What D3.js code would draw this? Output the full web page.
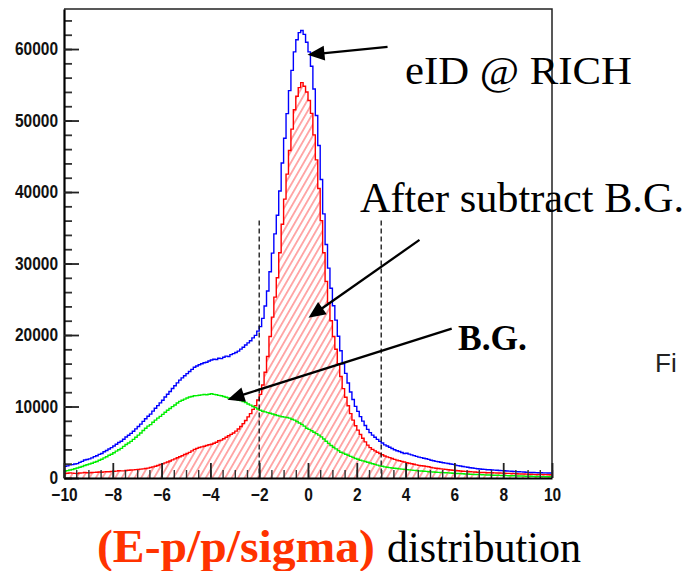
<!DOCTYPE html>
<html>
<head>
<meta charset="utf-8">
<script src="https://cdn.jsdelivr.net/npm/d3@7"></script>
<style>
  html, body { margin: 0; padding: 0; background: #fff; }
  svg { display: block; }
</style>
</head>
<body>
<svg id="chart" width="688" height="571"></svg>
<script>
// Histogram binning: 200 bins of width 0.1 over [-10, 10]
const binLow = -10;
const binWidth = 0.1;

// All electron candidates identified by the RICH (blue)
const totalCounts = [
  1620, 1700, 1830, 1870, 1950, 2010, 2190, 2320, 2510, 2590, 2670, 2820, 2990, 3110, 3310, 3420, 3670, 3850, 4060, 4250,
  4480, 4720, 4960, 5140, 5420, 5730, 5980, 6240, 6530, 6870, 7200, 7540, 7920, 8280, 8630, 8930, 9350, 9750, 10130, 10510,
  10880, 11320, 11710, 12100, 12510, 12900, 13310, 13690, 14000, 14310, 14600, 14900, 15200, 15500, 15660, 15840, 15970, 16130, 16200, 16370,
  16510, 16620, 16580, 16760, 16700, 16900, 17050, 17000, 17250, 17400, 17550, 17750, 18020, 18280, 18600, 18900, 19200, 19600, 19950, 20550,
  21180, 22330, 24050, 26150, 28850, 31450, 34150, 36750, 40150, 44060, 47520, 50970, 54180, 57020, 59600, 61300, 62300, 62600, 62050, 60950,
  59600, 57600, 54400, 50700, 46500, 41750, 36950, 32650, 29350, 26550, 24100, 22080, 19830, 17800, 15980, 14630, 13280, 12020, 10980, 10020,
  9320, 8580, 7950, 7350, 6800, 6350, 6000, 5700, 5400, 5120, 4890, 4640, 4470, 4300, 4120, 3960, 3820, 3700, 3560, 3430,
  3470, 3340, 3240, 3130, 3030, 2920, 2850, 2760, 2690, 2600, 2490, 2410, 2330, 2270, 2200, 2140, 2080, 2020, 1960, 1900,
  1800, 1730, 1670, 1610, 1550, 1500, 1440, 1390, 1350, 1300, 1260, 1220, 1200, 1160, 1145, 1115, 1095, 1075, 1055, 1030,
  1015, 985, 965, 935, 915, 890, 870, 850, 830, 810, 790, 775, 760, 745, 735, 725, 715, 710, 705, 700
];

// Background-subtracted electron signal (red, hatched)
const signalCounts = [
  640, 670, 720, 680, 650, 620, 690, 720, 770, 740, 720, 760, 790, 810, 830, 800, 850, 870, 880, 920,
  940, 960, 1010, 990, 1000, 1050, 1080, 1120, 1130, 1170, 1200, 1240, 1270, 1330, 1380, 1460, 1550, 1650, 1750, 1890,
  1980, 2120, 2230, 2370, 2530, 2680, 2830, 2970, 3120, 3280, 3420, 3580, 3800, 4000, 4140, 4260, 4350, 4450, 4550, 4650,
  4730, 4870, 5000, 5200, 5300, 5500, 5700, 5900, 6100, 6300, 6550, 6850, 7200, 7600, 8050, 8550, 9000, 9600, 10100, 10900,
  11700, 13000, 14800, 17000, 19800, 22500, 25300, 28000, 31500, 35500, 39000, 42500, 45800, 48800, 51500, 53400, 54600, 55300, 54800, 54000,
  52800, 51000, 48000, 44500, 40500, 36000, 31500, 27500, 24500, 22000, 19800, 18000, 16000, 14200, 12500, 11300, 10100, 9000, 8100, 7300,
  6700, 6100, 5550, 5050, 4600, 4250, 4000, 3800, 3600, 3420, 3250, 3080, 2960, 2850, 2720, 2600, 2500, 2420, 2320, 2230,
  2150, 2060, 1990, 1920, 1840, 1770, 1720, 1670, 1620, 1570, 1480, 1420, 1370, 1330, 1280, 1240, 1200, 1160, 1120, 1080,
  1050, 1010, 980, 950, 920, 900, 870, 850, 830, 810, 790, 770, 760, 740, 735, 725, 710, 700, 690, 675,
  670, 650, 640, 620, 610, 590, 580, 560, 550, 540, 530, 520, 510, 500, 495, 485, 480, 475, 465, 460
];

// Estimated background (green)
const backgroundCounts = [
  980, 1030, 1110, 1190, 1300, 1390, 1500, 1600, 1740, 1850, 1950, 2060, 2200, 2300, 2480, 2620, 2820, 2980, 3180, 3330,
  3540, 3760, 3950, 4150, 4420, 4680, 4900, 5120, 5400, 5700, 6000, 6300, 6650, 6950, 7250, 7470, 7800, 8100, 8380, 8620,
  8900, 9200, 9480, 9730, 9980, 10220, 10480, 10720, 10880, 11030, 11180, 11320, 11400, 11500, 11520, 11580, 11620, 11680, 11650, 11720,
  11780, 11700, 11640, 11560, 11500, 11400, 11300, 11200, 11150, 11050, 11000, 10900, 10820, 10680, 10550, 10350, 10200, 10000, 9850, 9650,
  9480, 9330, 9250, 9150, 9050, 8950, 8850, 8750, 8650, 8560, 8520, 8470, 8380, 8220, 8100, 7900, 7700, 7500, 7250, 6950,
  6800, 6600, 6400, 6200, 6000, 5750, 5450, 5150, 4850, 4550, 4300, 4080, 3830, 3600, 3480, 3330, 3180, 3020, 2880, 2720,
  2620, 2480, 2400, 2300, 2200, 2100, 2000, 1900, 1800, 1700, 1640, 1560, 1510, 1450, 1400, 1360, 1320, 1280, 1240, 1200,
  1170, 1130, 1100, 1060, 1040, 1000, 980, 940, 920, 880, 860, 840, 810, 790, 770, 750, 730, 710, 690, 670,
  650, 630, 610, 590, 570, 550, 530, 510, 500, 480, 470, 450, 440, 420, 410, 390, 385, 375, 365, 355,
  345, 335, 325, 315, 305, 295, 285, 275, 265, 255, 245, 235, 225, 215, 205, 195, 190, 185, 180, 175
];

const xTicks = [-10, -8, -6, -4, -2, 0, 2, 4, 6, 8, 10];
const xMinorStep = 0.5;
const yTicks = [0, 10000, 20000, 30000, 40000, 50000, 60000];
const yMinorStep = 2000;
const yMax = 65600;

// Selection window on (E-p)/p/sigma
const cutEdges = [-2, 3];
const cutHeight = 36000;

// Annotation arrows in data coordinates: tail -> head
const arrows = [
  { from: [3.26, 60300], to: [-0.02, 59200] },
  { from: [4.57, 33300], to: [0.02, 22400] },
  { from: [5.89, 20900], to: [-3.30, 10950] }
];

const svg = d3.select("#chart");
const plot = { left: 64, right: 552, top: 9, bottom: 478 };

const x = d3.scaleLinear().domain([-10, 10]).range([plot.left, plot.right]);
const y = d3.scaleLinear().domain([0, yMax]).range([plot.bottom, plot.top]);

// Hatch pattern for the signal histogram
const defs = svg.append("defs");
const pat = defs.append("pattern")
  .attr("id", "hatch")
  .attr("patternUnits", "userSpaceOnUse")
  .attr("width", 5.6).attr("height", 10)
  .attr("patternTransform", "rotate(30)");
pat.append("line")
  .attr("x1", 2.8).attr("y1", -1).attr("x2", 2.8).attr("y2", 11)
  .attr("stroke", "#ff3c3c").attr("stroke-width", 0.9);

defs.append("clipPath").attr("id", "plotClip")
  .append("rect")
  .attr("x", plot.left).attr("y", plot.top)
  .attr("width", plot.right - plot.left).attr("height", plot.bottom - plot.top);

// Bin contents -> step points (left edge of each bin, plus the closing edge)
function stepPoints(counts) {
  const pts = counts.map((v, i) => [binLow + i * binWidth, v]);
  pts.push([binLow + counts.length * binWidth, counts[counts.length - 1]]);
  return pts;
}

const stepLine = d3.line()
  .x(d => x(d[0])).y(d => y(d[1]))
  .curve(d3.curveStepAfter);

const stepArea = d3.area()
  .x(d => x(d[0])).y0(y(0)).y1(d => y(d[1]))
  .curve(d3.curveStepAfter);

const g = svg.append("g").attr("clip-path", "url(#plotClip)");

g.append("path")
  .attr("d", stepArea(stepPoints(signalCounts)))
  .attr("fill", "url(#hatch)");

g.append("path")
  .attr("d", stepLine(stepPoints(signalCounts)))
  .attr("fill", "none").attr("stroke", "#ff0000").attr("stroke-width", 1.4);

g.append("path")
  .attr("d", stepLine(stepPoints(backgroundCounts)))
  .attr("fill", "none").attr("stroke", "#00ee00").attr("stroke-width", 1.4);

g.append("path")
  .attr("d", stepLine(stepPoints(totalCounts)))
  .attr("fill", "none").attr("stroke", "#0000ff").attr("stroke-width", 1.4);

// Cut window
svg.append("g").selectAll("line.cut")
  .data(cutEdges).join("line")
  .attr("class", "cut")
  .attr("x1", d => x(d)).attr("x2", d => x(d))
  .attr("y1", y(cutHeight)).attr("y2", y(0))
  .attr("stroke", "#111").attr("stroke-width", 1.3)
  .attr("stroke-dasharray", "5,3");

// Frame (top and right)
svg.append("path")
  .attr("d", `M${plot.left},${plot.top}H${plot.right}V${plot.bottom}`)
  .attr("fill", "none").attr("stroke", "#222").attr("stroke-width", 1.5);

// Minor ticks
const yMinor = d3.range(0, yMax + 1, yMinorStep);
const xMinor = d3.range(-10, 10.001, xMinorStep);

svg.append("g")
  .attr("transform", `translate(${plot.left},0)`)
  .call(d3.axisLeft(y).tickValues(yMinor).tickSize(-8).tickSizeOuter(0).tickFormat(""))
  .call(a => a.select(".domain").remove())
  .call(a => a.selectAll(".tick line").attr("stroke", "#333").attr("stroke-width", 1.8));

svg.append("g")
  .attr("transform", `translate(0,${plot.bottom})`)
  .call(d3.axisBottom(x).tickValues(xMinor).tickSize(-8).tickSizeOuter(0).tickFormat(""))
  .call(a => a.select(".domain").remove())
  .call(a => a.selectAll(".tick line").attr("stroke", "#333").attr("stroke-width", 1.4));

// Major axes
const yAxis = svg.append("g")
  .attr("transform", `translate(${plot.left},0)`)
  .call(d3.axisLeft(y).tickValues(yTicks).tickSize(-15).tickSizeOuter(0).tickPadding(6)
    .tickFormat(d3.format("d")));

const xAxis = svg.append("g")
  .attr("transform", `translate(0,${plot.bottom})`)
  .call(d3.axisBottom(x).tickValues(xTicks).tickSize(-15).tickSizeOuter(0).tickPadding(10)
    .tickFormat(d3.format("d")));

[yAxis, xAxis].forEach(a => {
  a.select(".domain").attr("stroke", "#000").attr("stroke-width", 2.2);
  a.selectAll(".tick line").attr("stroke", "#222").attr("stroke-width", 1.8);
  a.selectAll(".tick text")
    .attr("font-family", "'Liberation Sans', Arial, sans-serif")
    .attr("font-weight", "bold")
    .attr("font-size", 18)
    .attr("fill", "#111")
    .each(function () {
      const w = this.getComputedTextLength();
      d3.select(this).attr("textLength", w * 0.86).attr("lengthAdjust", "spacingAndGlyphs");
    });
});

// Arrows
const arrowG = svg.append("g");
arrows.forEach(a => {
  const x0 = x(a.from[0]), y0 = y(a.from[1]);
  const x1 = x(a.to[0]), y1 = y(a.to[1]);
  const dx = x1 - x0, dy = y1 - y0;
  const len = Math.hypot(dx, dy);
  const ux = dx / len, uy = dy / len;
  const headL = 17, headW = 7.5;
  const bx = x1 - ux * headL, by = y1 - uy * headL;
  arrowG.append("line")
    .attr("x1", x0).attr("y1", y0).attr("x2", bx + ux * 2).attr("y2", by + uy * 2)
    .attr("stroke", "#000").attr("stroke-width", 2.3);
  arrowG.append("path")
    .attr("d", `M${x1},${y1}L${bx - uy * headW},${by + ux * headW}L${bx + uy * headW},${by - ux * headW}Z`)
    .attr("fill", "#000");
});

// Labels
const serif = "'Liberation Serif', 'Times New Roman', serif";
svg.append("text")
  .attr("x", 405).attr("y", 84)
  .attr("font-family", serif).attr("font-size", 41)
  .attr("textLength", 227).attr("lengthAdjust", "spacingAndGlyphs")
  .text("eID @ RICH");

svg.append("text")
  .attr("x", 360).attr("y", 212)
  .attr("font-family", serif).attr("font-size", 42)
  .attr("textLength", 324).attr("lengthAdjust", "spacingAndGlyphs")
  .text("After subtract B.G.");

svg.append("text")
  .attr("x", 458).attr("y", 350)
  .attr("font-family", serif).attr("font-size", 35).attr("font-weight", "bold")
  .attr("textLength", 69).attr("lengthAdjust", "spacingAndGlyphs")
  .text("B.G.");

svg.append("text")
  .attr("x", 655).attr("y", 372)
  .attr("font-family", "'Liberation Sans', Arial, sans-serif").attr("font-size", 26)
  .attr("fill", "#222")
  .text("Fi");

// Axis title
svg.append("text")
  .attr("x", 97).attr("y", 562)
  .attr("font-family", serif).attr("font-size", 46).attr("font-weight", "bold")
  .attr("fill", "#ff3300")
  .attr("textLength", 278).attr("lengthAdjust", "spacingAndGlyphs")
  .text("(E-p/p/sigma)");

svg.append("text")
  .attr("x", 387).attr("y", 562)
  .attr("font-family", serif).attr("font-size", 44)
  .attr("fill", "#000")
  .attr("textLength", 194).attr("lengthAdjust", "spacingAndGlyphs")
  .text("distribution");
</script>
</body>
</html>
